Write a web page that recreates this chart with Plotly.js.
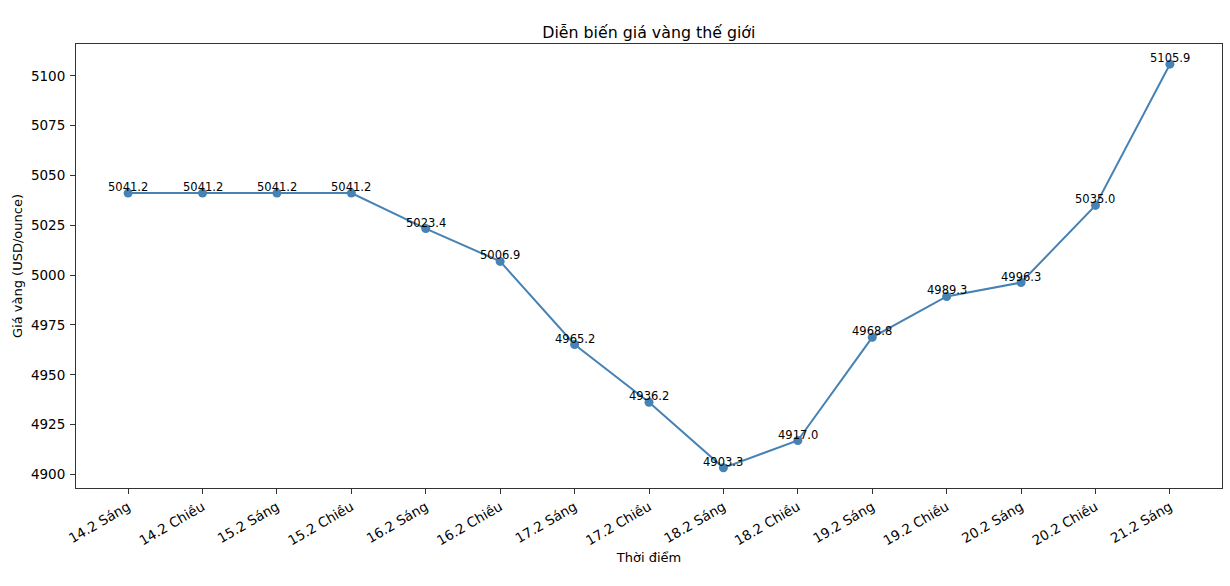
<!DOCTYPE html>
<html>
<head>
<meta charset="utf-8">
<script src="https://cdn.plot.ly/plotly-3.0.1.min.js"></script>
<style>
html,body{margin:0;padding:0;background:#fff;}
#chart{width:1230px;height:586px;}
#edge{position:absolute;left:3px;top:0;width:2px;height:586px;background:#e3e3e3;}
</style>
</head>
<body>
<div id="edge"></div>
<div id="chart"></div>
<script>
const categories = ["14.2 Sáng","14.2 Chiều","15.2 Sáng","15.2 Chiều","16.2 Sáng","16.2 Chiều","17.2 Sáng","17.2 Chiều","18.2 Sáng","18.2 Chiều","19.2 Sáng","19.2 Chiều","20.2 Sáng","20.2 Chiều","21.2 Sáng"];
const prices = [5041.2,5041.2,5041.2,5041.2,5023.4,5006.9,4965.2,4936.2,4903.3,4917.0,4968.8,4989.3,4996.3,5035.0,5105.9];
const yTicks = [4900,4925,4950,4975,5000,5025,5050,5075,5100];

const idx = categories.map((_, i) => i);
const font = "DejaVu Sans, sans-serif";
const trace = {
  x: idx, y: prices, type: "scatter", mode: "lines+markers",
  line: {color: "#4682b4", width: 2},
  marker: {color: "#4682b4", size: 9},
  hoverinfo: "none"
};
const annotations = prices.map((v, i) => ({
  x: i, y: v, xref: "x", yref: "y", text: v.toFixed(1), showarrow: false,
  xanchor: "center", yanchor: "bottom", yshift: -3,
  font: {family: font, size: 11.5, color: "#000"}
}));
const yMin = Math.min(...prices), yMax = Math.max(...prices), pad = (yMax - yMin) * 0.05;
const n = categories.length - 1;
const layout = {
  width: 1230, height: 586,
  margin: {l: 76, r: 8, t: 44, b: 98},
  paper_bgcolor: "#fff", plot_bgcolor: "#fff",
  showlegend: false,
  title: {text: "Diễn biến giá vàng thế giới", x: 0.5275, xanchor: "center", y: 0.945, yanchor: "middle",
          font: {family: font, size: 15.8, color: "#000"}},
  xaxis: {
    range: [-0.05 * n, n + 0.05 * n], tickmode: "array", tickvals: idx, ticktext: categories,
    tickangle: -30, ticks: "outside", ticklen: 5, tickcolor: "#333", showgrid: false, zeroline: false,
    showline: true, mirror: true, linecolor: "#333", linewidth: 1,
    tickfont: {family: font, size: 13.5, color: "#000"},
    title: {text: "Thời điểm", font: {family: font, size: 13, color: "#000"}, standoff: 5}
  },
  yaxis: {
    range: [yMin - pad, yMax + pad], tickmode: "array", tickvals: yTicks,
    ticks: "outside", ticklen: 5, tickcolor: "#333", showgrid: false, zeroline: false,
    showline: true, mirror: true, linecolor: "#333", linewidth: 1, ticklabelstandoff: 2,
    tickfont: {family: font, size: 13.5, color: "#000"},
    title: {text: "Giá vàng (USD/ounce)", font: {family: font, size: 13, color: "#000"}, standoff: 5}
  },
  annotations: annotations
};
Plotly.newPlot("chart", [trace], layout, {displayModeBar: false, staticPlot: true});
</script>
</body>
</html>
